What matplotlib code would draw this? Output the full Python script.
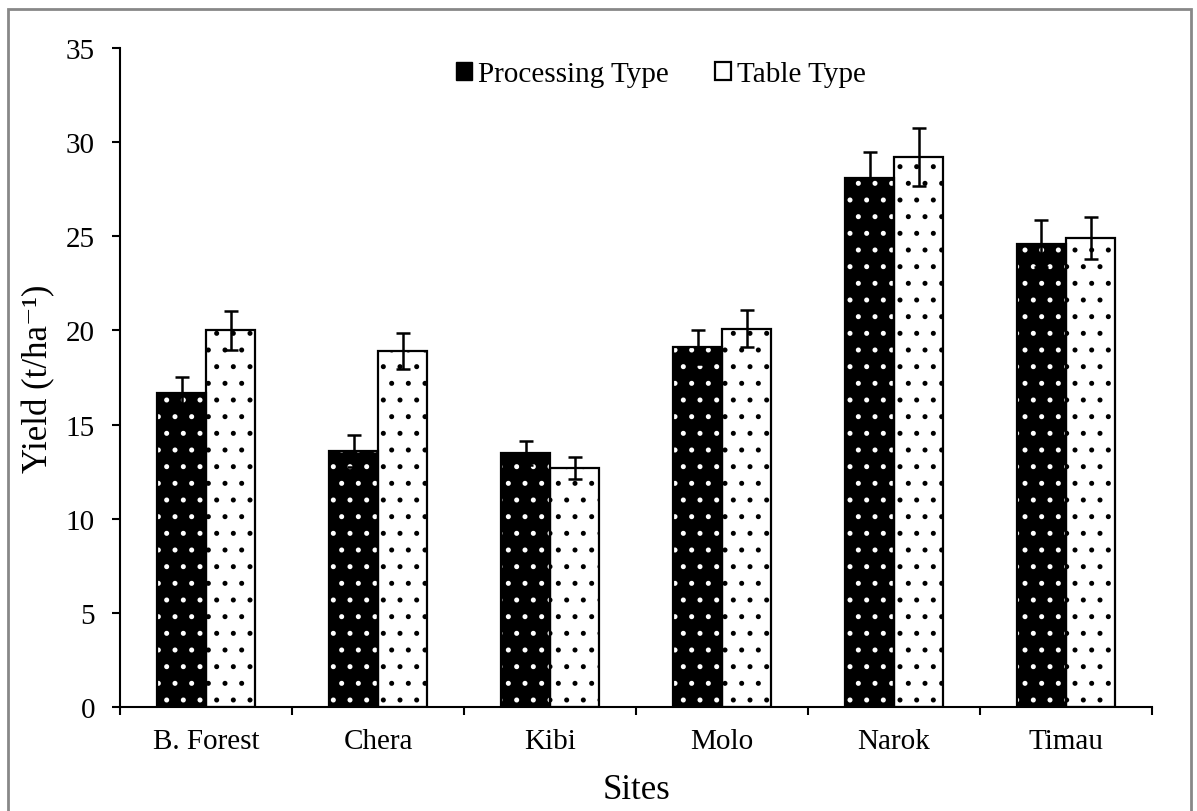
import matplotlib.pyplot as plt
import numpy as np
from matplotlib.patches import Rectangle


sites = ["B. Forest", "Chera", "Kibi", "Molo", "Narok", "Timau"]
processing_yield = [16.7, 13.6, 13.5, 19.1, 28.1, 24.6]
processing_err = [0.8, 0.85, 0.65, 0.9, 1.4, 1.25]
table_yield = [20.0, 18.9, 12.7, 20.1, 29.2, 24.9]
table_err = [1.05, 0.95, 0.6, 1.0, 1.55, 1.1]

plt.rcParams["font.family"] = ["Liberation Serif", "DejaVu Serif"]
plt.rcParams["hatch.linewidth"] = 1.2

fig = plt.figure(figsize=(11.97, 8.12), dpi=100)
ax = fig.add_axes([0.1003, 0.1281, 0.8621, 0.8116])

x = np.arange(len(sites)) + 0.5
width = 0.285

# black bars with white dots: hatch takes the edge colour, so outline separately
ax.bar(x - width / 2, processing_yield, width, color="black",
       edgecolor="white", hatch=".", linewidth=0, zorder=2)
ax.bar(x - width / 2, processing_yield, width, fill=False,
       edgecolor="black", linewidth=1.6, zorder=3)
ax.bar(x + width / 2, table_yield, width, color="white",
       edgecolor="black", hatch=".", linewidth=1.6, zorder=2)

err_style = dict(fmt="none", ecolor="black", elinewidth=1.8,
                 capsize=5, capthick=1.8, zorder=4)
ax.errorbar(x - width / 2, processing_yield, yerr=processing_err, **err_style)
ax.errorbar(x + width / 2, table_yield, yerr=table_err, **err_style)

ax.set_xlim(0, len(sites))
ax.set_ylim(0, 35)
ax.set_yticks(np.arange(0, 36, 5))
ax.set_xticks(np.arange(len(sites) + 1))
ax.set_xticklabels([])
ax.set_xticks(x, minor=True)
ax.set_xticklabels(sites, minor=True)

ax.tick_params(axis="both", which="major", direction="out", length=6,
               width=1.5, labelsize=21)
ax.tick_params(axis="x", which="minor", length=0, labelsize=21, pad=15)
ax.tick_params(axis="y", pad=12)
for side in ["top", "right"]:
    ax.spines[side].set_visible(False)
for side in ["left", "bottom"]:
    ax.spines[side].set_linewidth(1.5)

ax.set_xlabel("Sites", fontsize=25)
ax.xaxis.set_label_coords(0.5, -0.1)
ax.set_ylabel("Yield (t/ha⁻¹)", fontsize=25)
ax.yaxis.set_label_coords(-0.063, 0.5)

handles = [
    Rectangle((0, 0), 1, 1, facecolor="black", edgecolor="black"),
    Rectangle((0, 0), 1, 1, facecolor="white", edgecolor="black", linewidth=1.6),
]
ax.legend(handles, ["Processing Type", "Table Type"], loc="upper center",
          bbox_to_anchor=(0.524, 1.02), ncol=2, frameon=False, fontsize=21,
          handlelength=0.55, handleheight=0.55, handletextpad=0.2,
          columnspacing=1.6)

# grey frame around the whole figure
fig.patches.append(Rectangle((0.007, -0.01), 0.988, 0.998,
                             transform=fig.transFigure, fill=False,
                             edgecolor="#888888", linewidth=2))

fig.savefig("out.png", dpi=100)
